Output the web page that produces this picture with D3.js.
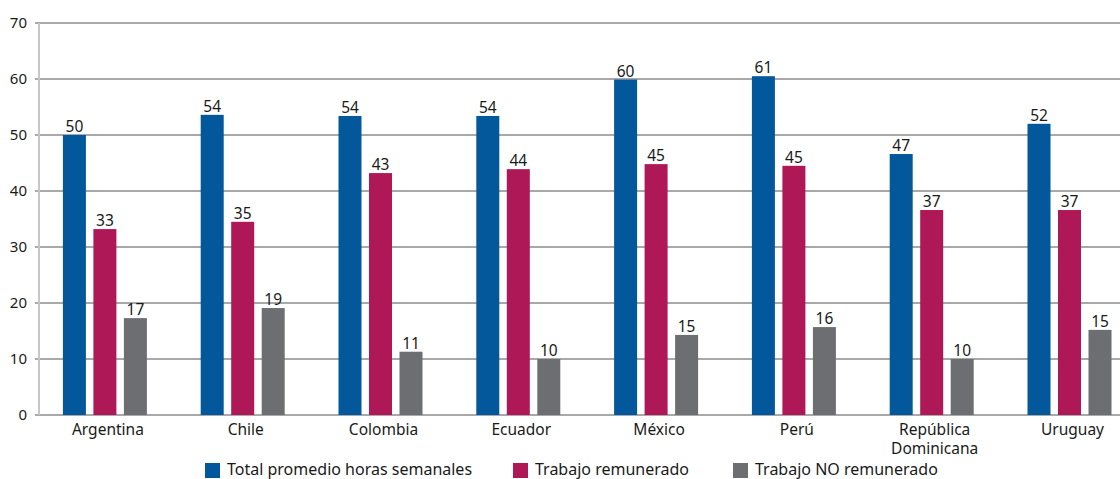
<!DOCTYPE html>
<meta charset="utf-8">
<style>
body {
  margin: 0;
  background-color: #ffffff;
}
svg text {
  font-family: "Noto Sans", sans-serif;
  fill: #1a1a1a;
}
.grid line {
  stroke: #8c8c8c;
  stroke-width: 1.3px;
}
.axis-y-line {
  stroke: #c6c6c6;
  stroke-width: 2px;
}
</style>
<body>
<script src="https://d3js.org/d3.v7.min.js"></script>
<script>
// horas semanales por país: total, remunerado, no remunerado
var countries = ["Argentina", "Chile", "Colombia", "Ecuador", "México", "Perú", "República Dominicana", "Uruguay"];
var seriesNames = ["Total promedio horas semanales", "Trabajo remunerado", "Trabajo NO remunerado"];
var totalHours = [50.0, 53.6, 53.4, 53.4, 59.9, 60.5, 46.6, 52.0];
var paidHours = [33.2, 34.5, 43.2, 43.9, 44.8, 44.5, 36.6, 36.6];
var unpaidHours = [17.3, 19.1, 11.3, 10.0, 14.3, 15.7, 10.0, 15.2];
var valueLabels = [
  [50, 54, 54, 54, 60, 61, 47, 52],
  [33, 35, 43, 44, 45, 45, 37, 37],
  [17, 19, 11, 10, 15, 16, 10, 15]
];
var yTicks = [0, 10, 20, 30, 40, 50, 60, 70];
var colors = ["#03589b", "#ae1857", "#6d6e71"];

var svg = d3.select("body")
    .append("svg")
    .attr("width", 1120)
    .attr("height", 479);

var axisX = 39;

var x0 = d3.scaleBand()
    .domain(countries)
    .range([36, 1138.4]);

var x1 = d3.scaleBand()
    .domain(d3.range(3))
    .range([0, 84])
    .paddingInner(0.246);

var y = d3.scaleLinear()
    .domain([0, 70])
    .range([415, 23]);

var series = [totalHours, paidHours, unpaidHours];

// grid lines
svg.append("g")
    .attr("class", "grid")
    .selectAll("line")
    .data(yTicks)
    .enter().append("line")
    .attr("x1", axisX - 4)
    .attr("x2", 1120)
    .attr("y1", function(d) { return y(d); })
    .attr("y2", function(d) { return y(d); });

svg.append("line")
    .attr("class", "axis-y-line")
    .attr("x1", axisX)
    .attr("x2", axisX)
    .attr("y1", y(70))
    .attr("y2", y(0));

// y tick labels
svg.append("g")
    .selectAll("text")
    .data(yTicks)
    .enter().append("text")
    .attr("x", 27)
    .attr("y", function(d) { return y(d); })
    .attr("dy", "0.35em")
    .attr("text-anchor", "end")
    .style("font-size", "15px")
    .text(function(d) { return d; });

// bars
var groups = svg.append("g")
    .selectAll("g")
    .data(countries)
    .enter().append("g")
    .attr("transform", function(d) {
      return "translate(" + (x0(d) + x0.bandwidth() / 2 - 42) + ",0)";
    });

function cells(d, i) {
  return series.map(function(s, k) { return {k: k, v: s[i], label: valueLabels[k][i]}; });
}

groups.selectAll("rect")
    .data(cells)
    .enter().append("rect")
    .attr("x", function(d) { return x1(d.k); })
    .attr("width", x1.bandwidth())
    .attr("y", function(d) { return y(d.v); })
    .attr("height", function(d) { return y(0) - y(d.v); })
    .attr("fill", function(d) { return colors[d.k]; });

groups.selectAll("text.val")
    .data(cells)
    .enter().append("text")
    .attr("class", "val")
    .attr("x", function(d) { return x1(d.k) + x1.bandwidth() / 2; })
    .attr("y", function(d) { return y(d.v) - 3; })
    .attr("text-anchor", "middle")
    .style("font-size", "15.5px")
    .text(function(d) { return d.label; });

// category labels, one text per line
var catLines = [];
countries.forEach(function(c) {
  var parts = c === "República Dominicana" ? ["República", "Dominicana"] : [c];
  parts.forEach(function(p, i) { catLines.push({cat: c, text: p, line: i}); });
});

svg.append("g")
    .selectAll("text")
    .data(catLines)
    .enter().append("text")
    .attr("x", function(d) { return x0(d.cat) + x0.bandwidth() / 2 + 3; })
    .attr("y", function(d) { return 435 + d.line * 19; })
    .attr("text-anchor", "middle")
    .style("font-size", "15.5px")
    .text(function(d) { return d.text; });

// legend
var legendX = [205, 513, 733];
var legend = svg.append("g")
    .selectAll("g")
    .data(seriesNames)
    .enter().append("g")
    .attr("transform", function(d, i) { return "translate(" + legendX[i] + ",463)"; });

legend.append("rect")
    .attr("width", 15)
    .attr("height", 15)
    .attr("fill", function(d, i) { return colors[i]; });

legend.append("text")
    .attr("x", 22)
    .attr("y", 12)
    .style("font-size", "16px")
    .text(function(d) { return d; });
</script>
</body>
